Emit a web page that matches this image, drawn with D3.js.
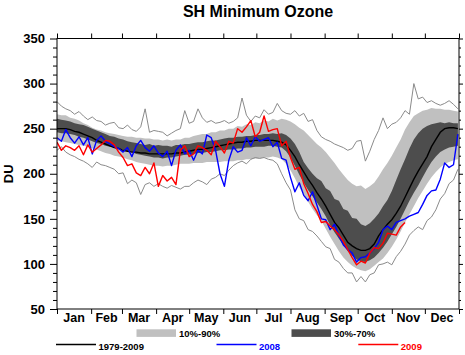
<!DOCTYPE html>
<html><head><meta charset="utf-8">
<script src="https://cdn.jsdelivr.net/npm/d3@7"></script>
<style>
body{margin:0;background:#fff;}
svg{display:block;font-family:"Liberation Sans",Arial,Helvetica,sans-serif;}
</style>
</head><body>
<svg id="chart" width="465" height="355"></svg>
<script>
// ---------- data ----------
const title = "SH Minimum Ozone";
const yLabel = "DU";
const months = ["Jan","Feb","Mar","Apr","May","Jun","Jul","Aug","Sep","Oct","Nov","Dec"];
const monthStarts = [0,31,59,90,120,151,181,212,243,273,304,334,365];
const yTicks = [50,100,150,200,250,300,350];
const yMinorTicks = [60,70,80,90,110,120,130,140,160,170,180,190,210,220,230,240,260,270,280,290,310,320,330,340];

const days = [0,4,8,12,16,20,24,28,32,36,40,44,48,52,56,60,64,68,72,76,80,84,88,92,96,100,
  104,108,112,116,120,124,128,132,136,140,144,148,152,156,160,164,168,172,176,180,184,188,192,196,
  200,204,208,212,216,220,224,228,232,236,240,244,248,252,256,260,264,268,272,276,280,284,288,292,
  296,300,304,308,312,316,320,324,328,332,336,340,344,348,352,356,360,364];

const mean1979_2009 = [250,250,250,249,247,246,244,242,240,237,
  235,233,231,229,228,226,225,224,224,223,
  223,222,222,222,222,222,222,223,223,224,
  225,226,227,227,228,229,230,231,232,233,
  234,235,235,236,236,237,237,237,237,237,
  236,235,232,226,219,210,202,194,187,179,
  172,164,155,146,140,132,124,120,117,115,
  115,117,122,131,138,144,149,156,164,174,
  184,194,203,211,219,230,238,246,250,251,
  251,250];

const p90 = [266,265,265,262,261,259,256,254,251,249,
  248,246,245,244,243,242,241,241,240,240,
  239,239,238,238,237,238,237,238,238,240,
  240,242,243,244,244,246,246,248,248,250,
  250,253,252,255,254,257,256,259,258,261,
  259,261,260,258,255,251,248,243,238,233,
  229,224,218,212,205,199,193,189,186,187,
  183,186,190,197,205,212,220,229,238,249,
  257,264,267,270,271,273,272,272,271,271,
  270,269];

const p70 = [261,260,259,258,256,255,254,252,250,248,
  246,244,242,241,239,238,236,235,234,233,
  232,233,231,232,231,231,230,232,232,233,
  233,234,235,235,236,237,237,238,239,240,
  240,241,241,242,242,243,243,244,244,245,
  244,245,243,239,233,224,213,206,200,195,
  192,184,181,172,170,161,159,151,150,144,
  142,145,150,156,164,171,181,193,205,216,
  228,238,245,250,253,255,256,257,256,257,
  256,256];

const p30 = [246,245,245,244,243,241,240,238,236,234,
  233,231,230,229,228,227,225,224,222,221,
  220,219,218,218,217,218,218,219,220,221,
  221,222,223,223,224,224,225,226,226,227,
  227,228,228,229,229,230,230,230,231,231,
  230,229,225,218,209,199,190,182,175,168,
  161,153,143,135,128,121,114,109,105,103,
  102,104,107,112,118,125,133,141,150,160,
  170,179,187,196,205,213,219,224,227,229,
  230,231];

const p10 = [237,236,235,234,233,232,231,230,228,227,
  225,223,222,220,219,218,216,215,213,212,
  211,210,209,209,208,209,209,210,211,211,
  211,212,212,212,213,213,213,213,214,214,
  214,215,215,216,216,217,217,218,218,219,
  218,216,211,204,195,185,177,169,161,154,
  148,139,130,122,114,107,102,98,95,93,
  92,94,98,102,106,112,119,127,136,146,
  155,164,173,181,189,196,202,207,211,213,
  215,216];

const maxValues = [280,275,272,270,266,269,264,260,263,259,
  258,254,256,257,251,250,254,249,247,252,
  272,246,248,247,246,242,245,248,250,270,
  256,258,272,262,257,259,256,257,259,256,
  258,262,284,265,258,264,262,271,266,268,
  278,270,267,266,270,264,267,258,260,248,
  241,238,236,233,231,229,226,228,236,237,
  214,225,238,248,262,250,255,257,262,270,
  266,300,283,285,279,281,278,276,278,281,
  277,272];

const minValues = [226,230,224,221,219,216,214,211,207,213,
  210,209,207,205,200,201,189,193,190,177,
  188,190,186,189,186,184,187,185,183,186,
  186,190,193,191,188,194,196,200,198,204,
  209,212,214,211,216,218,217,218,216,215,
  211,200,190,182,160,150,148,138,136,131,
  125,119,117,105,102,95,90,90,80,86,
  80,88,90,99,100,102,99,108,114,122,
  132,137,141,138,148,152,160,172,178,189,
  193,205];

const values2008 = [240,236,249,240,234,241,232,240,222,237,
  242,236,233,230,228,224,229,219,231,237,
  229,225,231,223,219,225,209,226,232,222,
  226,215,226,222,243,240,226,200,186,215,
  230,224,226,240,231,241,236,238,240,230,
  235,217,215,196,180,190,176,170,180,165,
  150,149,138,144,131,121,116,112,102,107,
  108,112,117,124,138,142,138,146,148,150,
  153,155,157,166,176,181,182,194,212,207,
  210,244];

const values2009 = [235,226,231,229,226,231,221,232,224,228,
  232,237,236,232,224,218,209,211,201,198,
  207,200,212,186,198,192,196,188,226,231,
  219,222,231,229,226,221,236,230,223,236,
  234,250,246,252,259,241,246,264,247,249,
  250,231,236,218,205,207,189,178,166,158,
  146,147,142,138,132,125,116,107,99,103,
  101,112,118,117,123,134,133,132,141,146];

const bandLabels = ["10%-90%","30%-70%"];
const lineLabels = ["1979-2009","2008","2009"];

// ---------- drawing ----------
const svg = d3.select("#chart");
const L = 57, R = 459, T = 38.5, B = 309;
const x = d3.scaleLinear().domain([0,365]).range([L,R]);
const y = d3.scaleLinear().domain([50,350]).range([B,T]);

const cLight = "#c0c0c0", cDark = "#4d4d4d", cGrey = "#8a8a8a";

svg.append("defs").append("clipPath").attr("id","clip")
  .append("rect").attr("x",L).attr("y",T).attr("width",R-L).attr("height",B-T);

const plot = svg.append("g").attr("clip-path","url(#clip)");
const idx = d3.range(days.length);

const band = (lo, hi) => d3.area()
  .x(i => x(days[i])).y0(i => y(lo[i])).y1(i => y(hi[i]));

plot.append("path").attr("d", band(p10,p90)(idx)).attr("fill", cLight);
plot.append("path").attr("d", band(p30,p70)(idx)).attr("fill", cDark);

const lineOf = arr => d3.line().x(i => x(days[i])).y(i => y(arr[i]));

plot.append("path").attr("d", lineOf(maxValues)(idx))
  .attr("fill","none").attr("stroke",cGrey).attr("stroke-width",1);
plot.append("path").attr("d", lineOf(minValues)(idx))
  .attr("fill","none").attr("stroke",cGrey).attr("stroke-width",1);
plot.append("path").attr("d", lineOf(mean1979_2009)(idx))
  .attr("fill","none").attr("stroke","#000").attr("stroke-width",1.4);
plot.append("path").attr("d", lineOf(values2008)(idx))
  .attr("fill","none").attr("stroke","#0000ff").attr("stroke-width",1.4).attr("stroke-linejoin","round");
plot.append("path").attr("d", lineOf(values2009)(d3.range(values2009.length)))
  .attr("fill","none").attr("stroke","#ff0000").attr("stroke-width",1.4).attr("stroke-linejoin","round");

// frame
svg.append("rect").attr("x",L).attr("y",T).attr("width",R-L).attr("height",B-T)
  .attr("fill","none").attr("stroke","#000").attr("stroke-width",1);

function styleAxis(g){
  g.select(".domain").remove();
  g.selectAll("line").attr("stroke","#000");
  g.selectAll("text").attr("fill","#000").attr("font-weight","bold")
    .attr("font-family","'Liberation Sans',Arial,sans-serif");
}

// left axis
svg.append("g").attr("transform",`translate(${L},0)`)
  .call(d3.axisLeft(y).tickValues(yMinorTicks).tickSize(4).tickFormat(""))
  .call(styleAxis);
svg.append("g").attr("transform",`translate(${L},0)`)
  .call(d3.axisLeft(y).tickValues(yTicks).tickSize(7).tickPadding(5).tickFormat(d3.format("d")))
  .call(styleAxis)
  .selectAll("text").attr("font-size",13);
// right axis
svg.append("g").attr("transform",`translate(${R},0)`)
  .call(d3.axisRight(y).tickValues(yMinorTicks).tickSize(2).tickFormat(""))
  .call(styleAxis);
svg.append("g").attr("transform",`translate(${R},0)`)
  .call(d3.axisRight(y).tickValues(yTicks).tickSize(4).tickFormat(""))
  .call(styleAxis);
// bottom / top axes
svg.append("g").attr("transform",`translate(0,${B})`)
  .call(d3.axisBottom(x).tickValues(monthStarts).tickSize(5).tickFormat(""))
  .call(styleAxis);
svg.append("g").attr("transform",`translate(0,${T})`)
  .call(d3.axisTop(x).tickValues(monthStarts).tickSize(5).tickFormat(""))
  .call(styleAxis);

// month labels
svg.append("g").selectAll("text").data(months).join("text")
  .attr("x",(d,i) => x((monthStarts[i]+monthStarts[i+1])/2))
  .attr("y",322).attr("text-anchor","middle")
  .attr("font-size",12.5).attr("font-weight","bold").text(d => d);

// title
svg.append("text").attr("x",(L+R)/2).attr("y",17).attr("text-anchor","middle")
  .attr("font-size",16).attr("font-weight","bold").text(title);

// y label
svg.append("text").attr("transform",`translate(12.5,${(T+B)/2}) rotate(-90)`)
  .attr("text-anchor","middle").attr("font-size",13).attr("font-weight","bold").text(yLabel);

// legend
const lg = svg.append("g").attr("font-size",9.5).attr("font-weight","bold");
const bandBoxes = [{x0:136.5, fill:cLight},{x0:291.5, fill:cDark}];
bandBoxes.forEach((b,i) => {
  lg.append("rect").attr("x",b.x0).attr("y",329.3).attr("width",39.5).attr("height",7.6).attr("fill",b.fill);
  lg.append("text").attr("x",b.x0+42.5).attr("y",337).attr("fill","#000").text(bandLabels[i]);
});
const lineItems = [{x0:56, c:"#000", tc:"#000"},{x0:216.5, c:"#0000ff", tc:"#0000ff"},{x0:358.3, c:"#ff0000", tc:"#ff0000"}];
lineItems.forEach((l,i) => {
  lg.append("line").attr("x1",l.x0).attr("x2",l.x0+40).attr("y1",344.5).attr("y2",344.5)
    .attr("stroke",l.c).attr("stroke-width",1.3);
  lg.append("text").attr("x",l.x0+42.5).attr("y",349.5).attr("fill",l.tc).text(lineLabels[i]);
});
</script>
</body></html>
